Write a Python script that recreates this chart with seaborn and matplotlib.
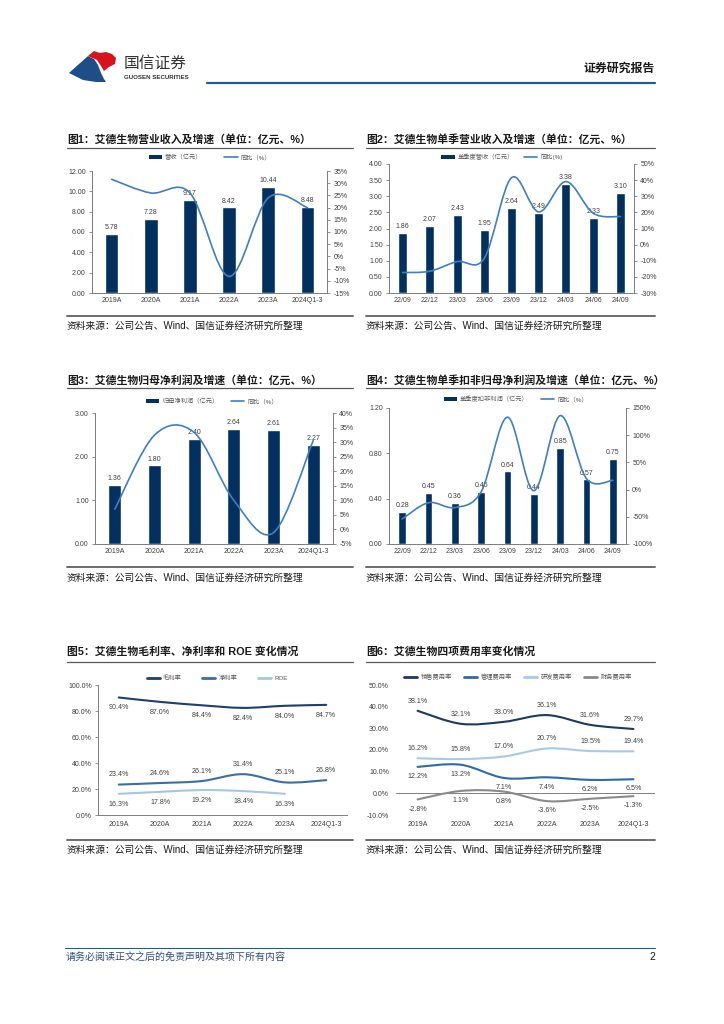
import numpy as np
import pandas as pd
import seaborn as sns
import matplotlib
matplotlib.use('Agg')
import matplotlib.pyplot as plt
from matplotlib.path import Path
from matplotlib.patches import PathPatch, Patch, Polygon
from matplotlib.lines import Line2D
from matplotlib.ticker import FuncFormatter

sns.set_style("white")
plt.rcParams['font.family'] = ['Liberation Sans', 'Noto Sans CJK SC', 'DejaVu Sans']
plt.rcParams['axes.unicode_minus'] = False

# ---- data ----
years = ['2019A', '2020A', '2021A', '2022A', '2023A', '2024Q1-3']
quarters = ['22/09', '22/12', '23/03', '23/06', '23/09', '23/12', '24/03', '24/06', '24/09']

revenue = [5.78, 7.28, 9.17, 8.42, 10.44, 8.48]
revenue_yoy = [31.6, 26.0, 26.0, -8.2, 24.0, 20.0]

q_revenue = [1.86, 2.07, 2.43, 1.95, 2.64, 2.49, 3.38, 2.33, 3.10]
q_revenue_yoy = [-17.3, -16.5, -10.5, -8.5, 41.5, 20.3, 39.1, 19.5, 17.4]

net_profit = [1.36, 1.80, 2.40, 2.64, 2.61, 2.27]
net_profit_yoy = [7.0, 32.4, 33.3, 10.0, -1.1, 30.5]

q_deducted = [0.28, 0.45, 0.36, 0.46, 0.64, 0.44, 0.85, 0.57, 0.75]
q_deducted_yoy = [-54, -24, -33, -4, 133, -2, 136, 20, 17]

gross_margin = [90.4, 87.0, 84.4, 82.4, 84.0, 84.7]
net_margin = [23.4, 24.6, 26.1, 31.4, 25.1, 26.8]
roe = [16.3, 17.8, 19.2, 18.4, 16.3]

selling_rate = [38.1, 32.1, 33.0, 36.1, 31.6, 29.7]
admin_rate = [12.2, 13.2, 7.1, 7.4, 6.2, 6.5]
rnd_rate = [16.2, 15.8, 17.0, 20.7, 19.5, 19.4]
finance_rate = [-2.8, 1.1, 0.8, -3.6, -2.5, -1.3]

NAVY = '#03315F'
LINE = '#3F7FC1'
GRAY = '#7F7F7F'
TXT = '#404040'
W, H = 724, 1024

fig = plt.figure(figsize=(7.24, 10.24), dpi=100)


def fx(x):
    return x / W


def fy(y):
    return 1 - y / H


def make_ax(l, t, r, b):
    return fig.add_axes([fx(l), fy(b), (r - l) / W, (b - t) / H])


def hline(x0, x1, y, color, lw):
    fig.add_artist(Line2D([fx(x0), fx(x1)], [fy(y), fy(y)], color=color, lw=lw,
                          transform=fig.transFigure))


def smooth_line(ax, ys, **kw):
    # excel style smoothed line through the data points (bezier rendering)
    P = np.column_stack([np.arange(len(ys), dtype=float), np.asarray(ys, float)])
    n = len(P)
    verts = [P[0]]
    codes = [Path.MOVETO]
    for i in range(n - 1):
        p0 = P[i - 1] if i > 0 else P[i]
        p3 = P[i + 2] if i + 2 < n else P[i + 1]
        verts += [P[i] + (P[i + 1] - p0) / 6, P[i + 1] - (p3 - P[i]) / 6, P[i + 1]]
        codes += [Path.CURVE4] * 3
    ax.add_patch(PathPatch(Path(verts, codes), fill=False, capstyle='round', **kw))


def frame(x0, x1, title, t_y, line_y, bottom_y, src_y):
    fig.text(fx(x0), fy(t_y), title, fontsize=7.8, fontweight='bold', color='#1a1a1a',
             va='center', ha='left')
    hline(x0, x1, line_y, '#595959', 0.9)
    hline(x0, x1, bottom_y, '#6b6b6b', 1.4)
    fig.text(fx(x0), fy(src_y), '资料来源：公司公告、Wind、国信证券经济研究所整理',
             fontsize=7, color='#1a1a1a', va='center', ha='left')


def bar_line(box, cats, bars, yoy, names, ylim, yticks, rlim, rticks, bw, leg_xy, colsp):
    ax = make_ax(*box)
    n = len(cats)
    sns.barplot(x=cats, y=bars, ax=ax, color=NAVY, width=bw, saturation=1)
    ax.bar_label(ax.containers[0], fmt='%.2f', padding=2, fontsize=5, color=TXT)
    ax.set_xlim(-0.5, n - 0.5)
    ax.set_ylim(*ylim)
    ax.set_yticks(yticks)
    ax.yaxis.set_major_formatter(FuncFormatter(lambda v, p: f'{v:.2f}'))
    ax.set_xticks(np.arange(n))
    ax.set_xticklabels(cats)
    ax.set_xticks(np.arange(n + 1) - 0.5, minor=True)
    ax.tick_params(axis='x', which='major', length=0, labelsize=5, labelcolor=TXT, pad=3)
    ax.tick_params(axis='x', which='minor', length=2.5, width=0.6, color=GRAY, direction='out')
    ax.tick_params(axis='y', length=2.5, width=0.6, color=GRAY, labelsize=5,
                   labelcolor=TXT, pad=2, left=True)
    ax.set_xlabel('')
    ax.set_ylabel('')
    ax2 = ax.twinx()
    smooth_line(ax2, yoy, edgecolor=LINE, lw=1.2)
    ax2.set_ylim(*rlim)
    ax2.set_yticks(rticks)
    ax2.yaxis.set_major_formatter(FuncFormatter(lambda v, p: f'{v:.0f}%'))
    ax2.tick_params(axis='y', length=2.5, width=0.6, color=GRAY, labelsize=5,
                    labelcolor=TXT, pad=2, right=True)
    for a in (ax, ax2):
        a.spines['top'].set_visible(False)
        for s in ('left', 'right', 'bottom'):
            a.spines[s].set_color(GRAY)
            a.spines[s].set_linewidth(0.7)
        a.grid(False)
    handles = [Patch(facecolor=NAVY, edgecolor='none'), Line2D([], [], color=LINE, lw=1.2)]
    fig.legend(handles, names, loc='center', bbox_to_anchor=(fx(leg_xy[0]), fy(leg_xy[1])),
               ncol=2, frameon=False, fontsize=4.5, handlelength=2.1, handleheight=0.7,
               columnspacing=colsp, handletextpad=0.5, labelcolor='#595959')
    return ax


def line_panel(box, cats, series, colors, offsets, ylim, yticks, leg_xy, colsp, zero_axis=False):
    ax = make_ax(*box)
    n = len(cats)
    for (name, vals), c, dy in zip(series, colors, offsets):
        smooth_line(ax, vals, edgecolor=c, lw=1.5)
        for i, v in enumerate(vals):
            ax.annotate(f'{v:.1f}%', (i, v), xytext=(0, dy), textcoords='offset points',
                        ha='center', va='center', fontsize=5.1, color=TXT)
    ax.set_xlim(-0.5, n - 0.5)
    ax.set_ylim(*ylim)
    ax.set_yticks(yticks)
    ax.yaxis.set_major_formatter(FuncFormatter(lambda v, p: f'{v:.1f}%'))
    ax.set_xticks(np.arange(n))
    ax.set_xticklabels(cats)
    ax.tick_params(axis='x', which='major', length=0, labelsize=5, labelcolor=TXT, pad=4)
    ax.spines['top'].set_visible(False)
    ax.spines['right'].set_visible(False)
    if zero_axis:
        ax.spines['left'].set_visible(False)
        ax.spines['bottom'].set_visible(False)
        ax.axhline(0, color=GRAY, lw=0.7, zorder=0)
        ax.tick_params(axis='y', length=0, labelsize=5, labelcolor=TXT, pad=5)
    else:
        ax.set_xticks(np.arange(n + 1) - 0.5, minor=True)
        ax.tick_params(axis='x', which='minor', length=2.5, width=0.6, color=GRAY, direction='out')
        ax.tick_params(axis='y', length=2.5, width=0.6, color=GRAY, labelsize=5,
                       labelcolor=TXT, pad=2, left=True)
        for s in ('left', 'bottom'):
            ax.spines[s].set_color(GRAY)
            ax.spines[s].set_linewidth(0.7)
    ax.grid(False)
    handles = [Line2D([], [], color=c, lw=2) for c in colors]
    fig.legend(handles, [s[0] for s in series], loc='center',
               bbox_to_anchor=(fx(leg_xy[0]), fy(leg_xy[1])), ncol=len(series), frameon=False,
               fontsize=4.5, handlelength=2.1, columnspacing=colsp, handletextpad=0.5,
               labelcolor='#595959')
    return ax


# ---- header ----
blue_logo = [(69, 73), (79, 64), (88, 56), (94, 59), (98, 65), (101, 73), (104, 79),
             (106, 82), (96, 82), (83, 80)]
red_logo = [(88, 56), (94, 51), (100, 53), (106, 52), (112, 54), (116, 58), (115, 64),
            (109, 67), (104, 71), (101, 66), (97, 60)]
fig.add_artist(Polygon([(fx(x), fy(y)) for x, y in blue_logo], closed=True,
                       facecolor='#1D4E89', edgecolor='none', transform=fig.transFigure))
fig.add_artist(Polygon([(fx(x), fy(y)) for x, y in red_logo], closed=True,
                       facecolor='#D7141E', edgecolor='none', transform=fig.transFigure))
fig.text(fx(124), fy(63), '国信证券', fontsize=11.3, color='#333333', va='center', ha='left')
fig.text(fx(124), fy(77.5), 'GUOSEN SECURITIES', fontsize=4.4, fontweight='bold',
         color='#333333', va='center', ha='left')
fig.text(fx(655), fy(69), '证券研究报告', fontsize=8.6, fontweight='bold', color='#1a1a1a',
         va='center', ha='right')
hline(207, 655, 83, '#1F5C99', 1.6)

# ---- frames ----
frame(67, 353, '图1：艾德生物营业收入及增速（单位：亿元、%）', 139, 148, 316, 326)
frame(366, 655, '图2：艾德生物单季营业收入及增速（单位：亿元、%）', 139, 148, 316, 326)
frame(67, 353, '图3：艾德生物归母净利润及增速（单位：亿元、%）', 380, 388, 567, 578)
frame(366, 655, '图4：艾德生物单季扣非归母净利润及增速（单位：亿元、%）', 380, 388, 567, 578)
frame(67, 353, '图5：艾德生物毛利率、净利率和 ROE 变化情况', 652, 662, 840, 850)
frame(366, 655, '图6：艾德生物四项费用率变化情况', 652, 662, 840, 850)

# ---- charts ----
bar_line((92, 171, 327, 293), years, revenue, revenue_yoy, ['营收（亿元）', '同比（%）'],
         (0, 12), np.arange(0, 12.1, 2), (-15, 35), np.arange(-15, 36, 5), 0.35, (210, 157), 3.5)
bar_line((389, 164, 634, 293), quarters, q_revenue, q_revenue_yoy, ['单季度营收（亿元）', '同比(%)'],
         (0, 4), np.arange(0, 4.01, 0.5), (-30, 50), np.arange(-30, 51, 10), 0.33, (502, 157), 1.6)
bar_line((95, 413, 333, 544), years, net_profit, net_profit_yoy, ['归母净利润（亿元）', '同比（%）'],
         (0, 3), np.arange(0, 3.01, 1), (-5, 40), np.arange(-5, 41, 5), 0.32, (212, 401), 2.1)
bar_line((389, 408, 626, 544), quarters, q_deducted, q_deducted_yoy, ['单季度扣非利润（亿元）', '同比（%）'],
         (0, 1.2), np.arange(0, 1.21, 0.4), (-100, 150), np.arange(-100, 151, 50), 0.3, (516, 399), 2.0)

line_panel((98, 685, 347, 815), years,
           [('毛利率', gross_margin), ('净利率', net_margin), ('ROE', roe)],
           ['#1F3F6E', '#3A6EA8', '#A6C6E6'], [-7.5, 7, -7.5],
           (0, 100), np.arange(0, 101, 20), (217, 678), 3.3)
line_panel((396, 685, 655, 815), years,
           [('销售费用率', selling_rate), ('管理费用率', admin_rate),
            ('研发费用率', rnd_rate), ('财务费用率', finance_rate)],
           ['#1B3A66', '#2F69A6', '#A9C9E9', '#8A8A8A'], [7, -7, 7, -7],
           (-10, 50), np.arange(-10, 51, 10), (518, 677), 2.0, zero_axis=True)

# ---- footer ----
hline(65, 655, 948, '#1F5C99', 0.8)
fig.text(fx(66), fy(957), '请务必阅读正文之后的免责声明及其项下所有内容', fontsize=7.2,
         color='#2F4F7F', va='center', ha='left')
fig.text(fx(655), fy(957), '2', fontsize=7.5, color='#1a1a1a', va='center', ha='right')

fig.savefig('out.png', dpi=100)
